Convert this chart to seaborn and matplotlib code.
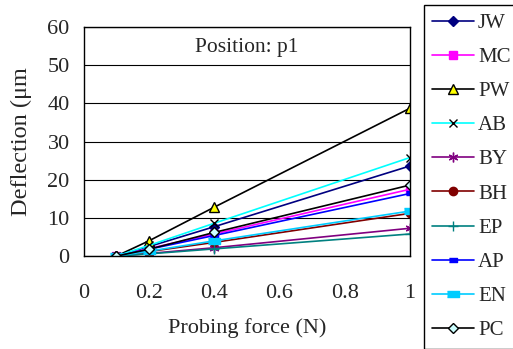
import matplotlib
matplotlib.use("Agg")
import matplotlib.pyplot as plt
import seaborn as sns
import pandas as pd

force = [0.1, 0.2, 0.4, 1.0]
labels = ["JW", "MC", "PW", "AB", "BY", "BH", "EP", "AP", "EN", "PC"]
JW = [0.0, 2.5, 7.7, 23.6]
MC = [0.0, 2.0, 5.8, 17.5]
PW = [0.0, 4.0, 12.8, 38.7]
AB = [0.0, 2.8, 8.6, 25.8]
BY = [0.0, 0.7, 2.2, 7.3]
BH = [0.0, 1.2, 3.6, 11.2]
EP = [0.0, 0.6, 1.9, 5.8]
AP = [0.0, 1.8, 5.4, 16.4]
EN = [0.0, 1.3, 4.0, 11.8]
PC = [0.0, 1.8, 6.2, 18.6]
values = [JW, MC, PW, AB, BY, BH, EP, AP, EN, PC]

rect = [(-1, -0.5), (1, -0.5), (1, 0.5), (-1, 0.5)]
styles = {
    "JW": dict(color="#000080", marker="D", mfc="#000080", mec="#000080", ms=5.5),
    "MC": dict(color="#FF00FF", marker="s", mfc="#FF00FF", mec="#FF00FF", ms=6),
    "PW": dict(color="#000000", marker="^", mfc="#FFFF00", mec="#000000", ms=7),
    "AB": dict(color="#00FFFF", marker="x", mfc="#000000", mec="#000000", ms=6),
    "BY": dict(color="#800080", marker=(6, 2, 0), mfc="#800080", mec="#800080", ms=7),
    "BH": dict(color="#800000", marker="o", mfc="#800000", mec="#800000", ms=6),
    "EP": dict(color="#008080", marker="+", mfc="#008080", mec="#008080", ms=7),
    "AP": dict(color="#0000FF", marker=rect, mfc="#0000FF", mec="#0000FF", ms=6),
    "EN": dict(color="#00CCFF", marker=rect, mfc="#00CCFF", mec="#00CCFF", ms=9),
    "PC": dict(color="#000000", marker="D", mfc="#CCFFFF", mec="#000000", ms=5.5),
}

sns.set_theme(style="white")
plt.rcParams["font.family"] = ["Liberation Serif", "DejaVu Serif"]

fig = plt.figure(figsize=(5.13, 3.49), dpi=100)
ax = fig.add_axes([0.163, 0.266, 0.636, 0.657])

for lab, vals in zip(labels, values):
    df = pd.DataFrame({"force": force, "defl": vals})
    st = styles[lab]
    sns.lineplot(data=df, x="force", y="defl", ax=ax, color=st["color"], marker=st["marker"],
                 markerfacecolor=st["mfc"], markeredgecolor=st["mec"], markersize=st["ms"],
                 markeredgewidth=1.0, linewidth=1.2, label=lab, legend=False)

ax.set_xlim(0, 1)
ax.set_ylim(0, 60)
ax.set_xticks([0, 0.2, 0.4, 0.6, 0.8, 1.0])
ax.set_xticklabels(["0", "0.2", "0.4", "0.6", "0.8", "1"])
ax.set_yticks([0, 10, 20, 30, 40, 50, 60])
ax.yaxis.grid(True, color="black", linewidth=0.8)
ax.xaxis.grid(False)
for s in ax.spines.values():
    s.set_color("black")
    s.set_linewidth(1.0)
ax.tick_params(axis="x", direction="in", length=5, color="black", labelsize=16, pad=20)
ax.tick_params(axis="y", direction="in", length=0, labelsize=16, pad=10)
ax.set_xlabel("Probing force (N)", fontsize=16, labelpad=11)
ax.set_ylabel("Deflection (μm", fontsize=17.5, labelpad=11)
ax.text(0.5, 0.91, "Position: p1", transform=ax.transAxes, ha="center", va="center", fontsize=15.5)

handles, labs = ax.get_legend_handles_labels()
leg = fig.legend(handles, labs, loc="upper left", bbox_to_anchor=(0.826, 0.986), fontsize=15,
                 frameon=True, fancybox=False, edgecolor="black", framealpha=1,
                 labelspacing=0.70, handlelength=2.0, handletextpad=0.2, borderpad=0.4,
                 borderaxespad=0)
leg.get_frame().set_linewidth(1.0)

fig.savefig("out.png", dpi=100)
